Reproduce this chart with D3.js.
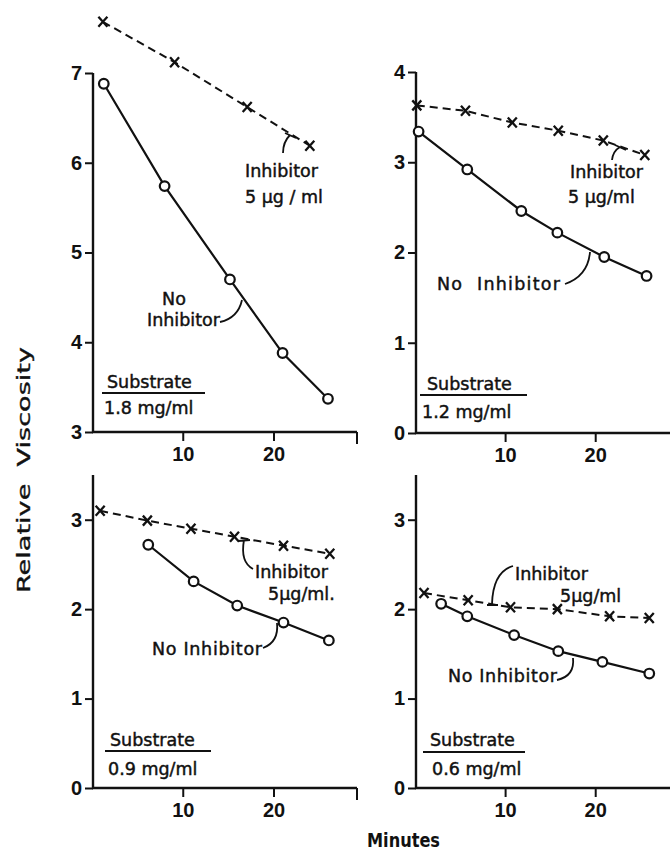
<!DOCTYPE html>
<html>
<head>
<meta charset="utf-8">
<script src="https://cdn.jsdelivr.net/npm/d3@7"></script>
<style>
html,body{margin:0;padding:0;background:#fff;}
svg{display:block;}
text{fill:#111;white-space:pre;}
</style>
</head>
<body>
<svg id="chart" width="670" height="850"></svg>
<script>
// ---- Data (minutes, relative viscosity) ----
const panelNames = ["1.8 mg/ml", "1.2 mg/ml", "0.9 mg/ml", "0.6 mg/ml"];
const yDomains = [[3, 7], [0, 4], [0, 3.5], [0, 3.5]];
const yTickValues = [[3, 4, 5, 6, 7], [0, 1, 2, 3, 4], [0, 1, 2, 3], [0, 1, 2, 3]];
const xTickValues = [10, 20];

const noInhT1 = [1.3, 8.0, 15.2, 21.0, 26.0];
const noInhV1 = [6.88, 5.74, 4.70, 3.88, 3.37];
const inhT1 = [1.2, 9.1, 17.1, 24.0];
const inhV1 = [7.57, 7.12, 6.62, 6.19];

const noInhT2 = [0.4, 5.8, 11.8, 15.8, 21.0, 25.7];
const noInhV2 = [3.34, 2.92, 2.46, 2.22, 1.95, 1.74];
const inhT2 = [0.2, 5.6, 10.8, 15.9, 20.9, 25.5];
const inhV2 = [3.63, 3.57, 3.44, 3.35, 3.24, 3.08];

const noInhT3 = [6.2, 11.2, 16.0, 21.1, 26.1];
const noInhV3 = [2.72, 2.31, 2.04, 1.85, 1.65];
const inhT3 = [0.9, 6.1, 10.9, 15.7, 21.1, 26.2];
const inhV3 = [3.10, 2.99, 2.90, 2.81, 2.71, 2.62];

const noInhT4 = [2.9, 5.8, 11.0, 15.9, 20.8, 26.0];
const noInhV4 = [2.06, 1.92, 1.71, 1.53, 1.41, 1.28];
const inhT4 = [1.0, 5.9, 10.6, 15.8, 21.6, 26.0];
const inhV4 = [2.18, 2.10, 2.02, 2.00, 1.92, 1.90];

const noInhT = [noInhT1, noInhT2, noInhT3, noInhT4];
const noInhV = [noInhV1, noInhV2, noInhV3, noInhV4];
const inhT = [inhT1, inhT2, inhT3, inhT4];
const inhV = [inhV1, inhV2, inhV3, inhV4];

// ---- Layout ----
const panels = [
  {xr: [92, 357], yr: [432, 73], xMax: 29.2, end: true},
  {xr: [415, 670], yr: [433, 72], xMax: 28.3, end: false},
  {xr: [92, 357], yr: [788, 475], xMax: 29.2, end: true},
  {xr: [415, 670], yr: [788, 475], xMax: 28.3, end: false}
];

const svg = d3.select("#chart");
const tickFont = "'Liberation Sans', Arial, sans-serif";
const annFont = "'DejaVu Sans', sans-serif";

panels.forEach((p, i) => {
  const x = d3.scaleLinear().domain([0, p.xMax]).range(p.xr);
  const y = d3.scaleLinear().domain(yDomains[i]).range(p.yr);
  const g = svg.append("g");

  // y axis
  const ya = g.append("g").attr("transform", `translate(${p.xr[0] + 1},0)`)
    .call(d3.axisLeft(y).tickValues(yTickValues[i]).tickSize(8).tickPadding(3).tickFormat(d3.format("d")));
  ya.select(".domain").remove();
  ya.selectAll(".tick line").attr("stroke", "#111").attr("stroke-width", 2);
  ya.selectAll("text").attr("font-family", tickFont).attr("font-size", 20).attr("font-weight", "bold").attr("fill", "#111");
  g.append("line").attr("x1", p.xr[0] + 1).attr("x2", p.xr[0] + 1)
    .attr("y1", p.yr[0] + 1).attr("y2", p.yr[1]).attr("stroke", "#111").attr("stroke-width", 2.4);

  // x axis
  const xa = g.append("g").attr("transform", `translate(0,${p.yr[0]})`)
    .call(d3.axisBottom(x).tickValues(xTickValues).tickSize(9).tickPadding(6));
  xa.select(".domain").remove();
  xa.selectAll(".tick line").attr("stroke", "#111").attr("stroke-width", 2);
  xa.selectAll("text").attr("font-family", tickFont).attr("font-size", 20).attr("font-weight", "bold").attr("fill", "#111");
  g.append("line").attr("x1", p.xr[0]).attr("x2", p.xr[1])
    .attr("y1", p.yr[0]).attr("y2", p.yr[0]).attr("stroke", "#111").attr("stroke-width", 2.4);
  if (p.end) {
    g.append("line").attr("x1", p.xr[1]).attr("x2", p.xr[1])
      .attr("y1", p.yr[0]).attr("y2", p.yr[0] + 12).attr("stroke", "#111").attr("stroke-width", 2);
  }

  // inhibitor dashed line
  const inhPts = inhT[i].map((t, k) => [x(t), y(inhV[i][k])]);
  g.append("path").attr("d", d3.line()(inhPts)).attr("fill", "none")
    .attr("stroke", "#111").attr("stroke-width", 2).attr("stroke-dasharray", "8,5");
  g.selectAll(".xm").data(inhPts).enter().append("path")
    .attr("d", d => `M${d[0]-4.5},${d[1]-5}L${d[0]+4.5},${d[1]+5}M${d[0]+4.5},${d[1]-5}L${d[0]-4.5},${d[1]+5}`)
    .attr("stroke", "#111").attr("stroke-width", 2.3).attr("fill", "none");

  // no inhibitor solid line
  const noPts = noInhT[i].map((t, k) => [x(t), y(noInhV[i][k])]);
  g.append("path").attr("d", d3.line()(noPts)).attr("fill", "none")
    .attr("stroke", "#111").attr("stroke-width", 2.2);
  g.selectAll(".cm").data(noPts).enter().append("circle")
    .attr("cx", d => d[0]).attr("cy", d => d[1]).attr("r", 4.8)
    .attr("fill", "#fff").attr("stroke", "#111").attr("stroke-width", 2.2);
});

// ---- Annotations ----
const ann = [
  // panel 1
  {t: "Inhibitor", x: 245, y: 177}, {t: "5 µg / ml", x: 245, y: 203},
  {t: "No", x: 174, y: 305, a: "middle"}, {t: "Inhibitor", x: 147, y: 326},
  {t: "Substrate", x: 107, y: 388}, {t: "1.8 mg/ml", x: 104, y: 414},
  // panel 2
  {t: "Inhibitor", x: 570, y: 178}, {t: "5 µg/ml", x: 568, y: 203},
  {t: "No  Inhibitor", x: 437, y: 290, w: 123},
  {t: "Substrate", x: 427, y: 390}, {t: "1.2 mg/ml", x: 422, y: 418},
  // panel 3
  {t: "Inhibitor", x: 255, y: 578}, {t: "5µg/ml.", x: 268, y: 600},
  {t: "No Inhibitor", x: 152, y: 655, w: 110},
  {t: "Substrate", x: 110, y: 746}, {t: "0.9 mg/ml", x: 108, y: 775},
  // panel 4
  {t: "Inhibitor", x: 515, y: 580}, {t: "5µg/ml", x: 560, y: 602},
  {t: "No Inhibitor", x: 448, y: 682, w: 109},
  {t: "Substrate", x: 430, y: 746}, {t: "0.6 mg/ml", x: 432, y: 775}
];
const annSel = svg.selectAll(".ann").data(ann).enter().append("text")
  .attr("x", d => d.x).attr("y", d => d.y)
  .attr("text-anchor", d => d.a || "start")
  .attr("font-family", annFont).attr("font-size", 17.5)
  .attr("stroke", "#111").attr("stroke-width", 0.45)
  .text(d => d.t);
annSel.filter(d => d.w).attr("textLength", d => d.w).attr("lengthAdjust", "spacing");

// underlines under "Substrate"
const underlines = [[102, 205, 393], [420, 527, 395], [105, 211, 751], [423, 525, 752]];
svg.selectAll(".ul").data(underlines).enter().append("line")
  .attr("x1", d => d[0]).attr("x2", d => d[1]).attr("y1", d => d[2]).attr("y2", d => d[2])
  .attr("stroke", "#111").attr("stroke-width", 2.2);

// leader curves
const leaders = [
  "M283,153 Q283,142 290,135 M285,133 L296,138",
  "M220,322 Q238,318 242,300",
  "M612,160 Q613,151 620,147 M615,145 L626,150",
  "M565,284 Q588,276 590,252",
  "M253,569 Q240,562 244,540 M238,541 L250,540",
  "M263,648 Q279,642 277,623",
  "M513,566 Q493,572 492,604 M487,605 L498,605",
  "M557,680 Q575,676 573,658"
];
svg.selectAll(".ld").data(leaders).enter().append("path")
  .attr("d", d => d).attr("fill", "none").attr("stroke", "#111").attr("stroke-width", 1.8);

// axis titles
svg.append("text").attr("transform", "translate(30,470) rotate(-90)")
  .attr("text-anchor", "middle").attr("font-family", annFont).attr("font-size", 18)
  .attr("stroke", "#111").attr("stroke-width", 0.35)
  .attr("textLength", 246).attr("lengthAdjust", "spacingAndGlyphs")
  .text("Relative  Viscosity");
svg.append("text").attr("x", 367).attr("y", 847)
  .attr("font-family", annFont).attr("font-size", 19).attr("font-weight", "bold")
  .attr("textLength", 73).attr("lengthAdjust", "spacingAndGlyphs")
  .text("Minutes");
</script>
</body>
</html>
